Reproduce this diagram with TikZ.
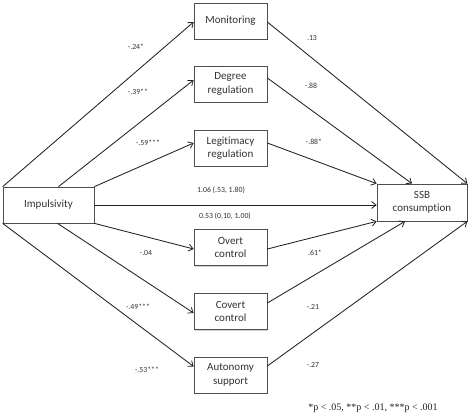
\documentclass[tikz,border=0pt]{standalone}
\usepackage{fontspec}
\setmainfont[Ligatures=NoCommon]{Carlito}
\newfontfamily\serifft{Liberation Serif}
\usetikzlibrary{arrows.meta,shadows}
\definecolor{txt}{HTML}{333333}
\definecolor{ln}{HTML}{222222}
\begin{document}
\begin{tikzpicture}[x=1pt,y=-1pt,
  box/.style={draw=ln!80,line width=0.7pt,fill=white,text=txt,font=\fontsize{11}{13.5}\selectfont,
    align=center,inner sep=0pt,minimum height=36pt,
    drop shadow={shadow xshift=1.2pt,shadow yshift=-1.2pt,opacity=0.35}},
  mid/.style={box,minimum width=73pt},
  conn/.style={draw=ln,line width=0.85pt,-{Straight Barb[length=4.5pt,width=7pt,line width=0.8pt]}},
  lab/.style={text=txt,font=\fontsize{7.8}{9}\selectfont,inner sep=0pt}]
\useasboundingbox (0,0) rectangle (474,414);
\fill[white] (0,0) rectangle (474,414);

\node[box,minimum width=91pt] (imp) at (48.5,205) {Impulsivity};
\node[mid] (mon) at (230.5,21) {Monitoring};
\node[mid] (deg) at (230.5,84) {Degree\\regulation};
\node[mid] (leg) at (230.5,148) {Legitimacy\\regulation};
\node[mid] (ove) at (230.5,247.5) {Overt\\control};
\node[mid] (cov) at (230.5,311.5) {Covert\\control};
\node[mid] (aut) at (230.5,375) {Autonomy\\support};
\node[box,minimum width=90pt,minimum height=37pt] (ssb) at (422,202.5) {SSB\\consumption};

% left side
\draw[conn] (imp.north west) -- ([yshift=-1pt]mon.west);
\draw[conn] ([xshift=10pt]imp.north) -- ([yshift=4pt]deg.west);
\draw[conn] (imp.north east) -- ([yshift=5pt]leg.west);
\draw[conn] (imp.east) -- ([yshift=-2.5pt]ssb.west);
\draw[conn] (imp.south east) -- ([yshift=-1.5pt]ove.west);
\draw[conn] ([xshift=9pt]imp.south) -- ([yshift=-1.5pt]cov.west);
\draw[conn] (imp.south west) -- ([yshift=8.5pt]aut.west);
% right side
\draw[conn] ([yshift=-1pt]mon.east) -- (ssb.north east);
\draw[conn] ([yshift=6pt]deg.east) -- ([xshift=-10pt]ssb.north);
\draw[conn] ([yshift=5pt]leg.east) -- (ssb.north west);
\draw[conn] ([yshift=-1.5pt]ove.east) -- (ssb.south west);
\draw[conn] ([yshift=8.5pt]cov.east) -- ([xshift=-17pt]ssb.south);
\draw[conn] ([yshift=9pt]aut.east) -- (ssb.south east);

% labels
\node[lab] (l1) at (136,47) {-.24*};
\node[lab] (l2) at (138,92) {-.39**};
\node[lab] (l3) at (148,143) {-.59***};
\node[lab] (l4) at (221,190) {1.06 (.53, 1.80)};
\node[lab] (l5) at (225,216) {0.53 (0.10, 1.00)};
\node[lab] (l6) at (146,253) {-.04};
\node[lab] (l7) at (138,307) {-.49***};
\node[lab] (l8) at (147,370) {-.53***};
\node[lab] (r1) at (312,38) {.13};
\node[lab] (r2) at (311,86) {-.88};
\node[lab] (r3) at (314,142) {-.88*};
\node[lab] (r4) at (315,253) {.61*};
\node[lab] (r5) at (313,307) {-.21};
\node[lab] (r6) at (313,365) {-.27};
\node[text=ln,font=\serifft\fontsize{10}{12}\selectfont,inner sep=0pt] (fn) at (373,408) {*p < .05, **p < .01, ***p < .001};
\end{tikzpicture}
\end{document}
